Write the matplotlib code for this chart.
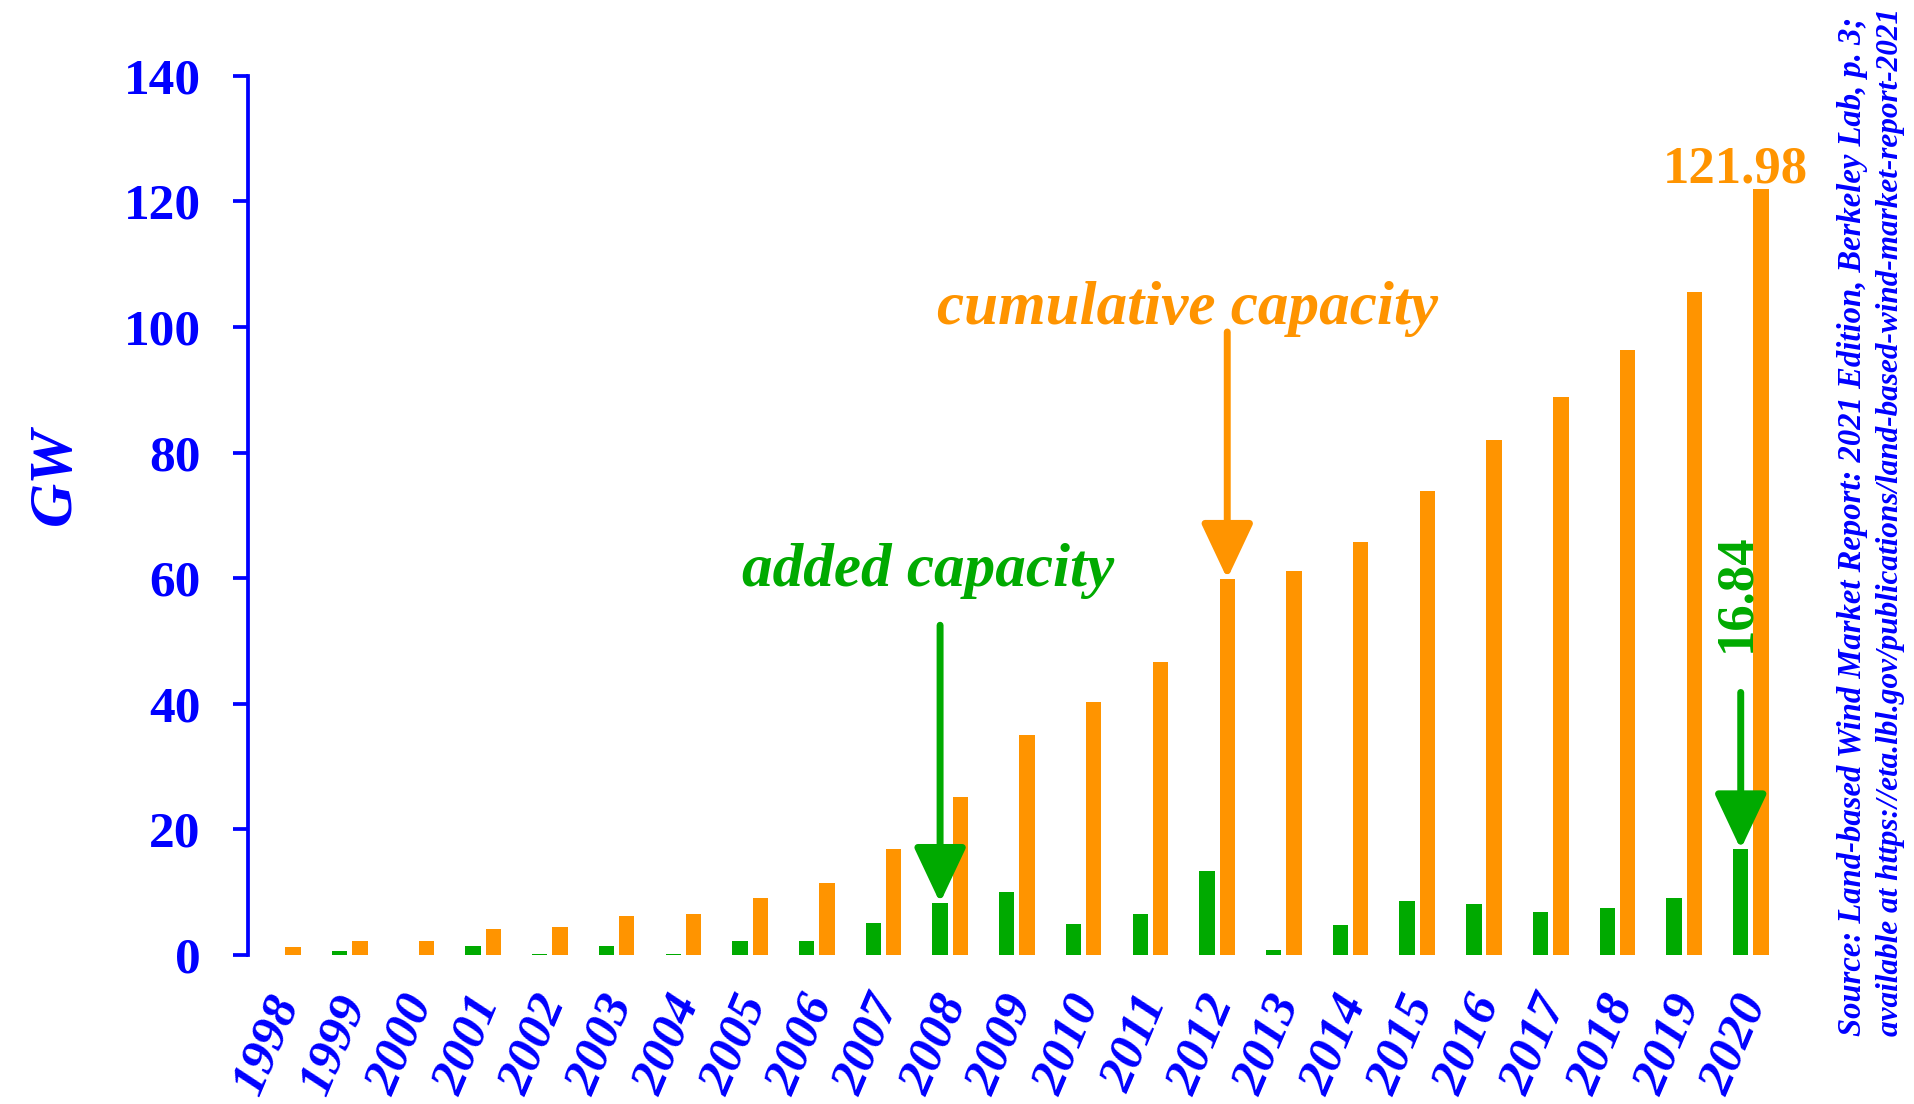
import numpy as np
import matplotlib
matplotlib.use('Agg')
from matplotlib import pyplot as plt
from matplotlib.transforms import ScaledTranslation

plt.rcParams['font.family'] = ['Liberation Serif', 'DejaVu Serif']

BLUE = '#0000FF'
GREEN = '#00AA00'
ORANGE = '#FF9400'

years = [str(y) for y in range(1998, 2021)]
# GW added each year
added = [0.0, 0.6, 0.0, 1.5, 0.1, 1.5, 0.1, 2.2, 2.3, 5.1, 8.3, 10.0, 5.0, 6.5,
         13.3, 0.8, 4.7, 8.6, 8.1, 6.9, 7.5, 9.1, 16.84]
# GW cumulative at year end
cumulative = [1.3, 2.2, 2.3, 4.1, 4.5, 6.2, 6.6, 9.0, 11.5, 16.9, 25.1, 35.0,
              40.2, 46.7, 59.9, 61.1, 65.8, 73.9, 82.0, 88.9, 96.3, 105.6, 121.98]

source_lines = ['Source: Land-based Wind Market Report: 2021 Edition, Berkeley Lab, p. 3;',
                'available at https://eta.lbl.gov/publications/land-based-wind-market-report-2021']

x = np.arange(len(years))
w = 0.23
off = 0.152

fig = plt.figure(figsize=(19.15, 11.04), dpi=100)
ax = fig.add_axes([0.1295, 0.135, 0.805, 0.7964])

ax.bar(x - off, added, width=w, color=GREEN)
ax.bar(x + off, cumulative, width=w, color=ORANGE)

ax.set_xlim(-0.525, 22.58)
ax.set_ylim(0, 140)
ax.set_yticks(range(0, 141, 20))
for s in ['top', 'right', 'bottom']:
    ax.spines[s].set_visible(False)
ax.spines['left'].set_color(BLUE)
ax.spines['left'].set_linewidth(2.7)
ax.tick_params(axis='y', colors=BLUE, width=2.7, length=11, pad=23, labelsize=37)
for lab in ax.get_yticklabels():
    lab.set_fontweight('bold')

ax.set_xticks(x)
ax.set_xticklabels(years, rotation=67, ha='right', va='top', fontsize=37,
                   fontweight='bold', fontstyle='italic', color=BLUE)
ax.tick_params(axis='x', length=0, pad=24)
shift = ScaledTranslation(26 / 100, 0, fig.dpi_scale_trans)
for lab in ax.get_xticklabels():
    lab.set_transform(lab.get_transform() + shift)

fig.text(55 / 1915, 1 - 476 / 1104, 'GW', rotation=90, ha='center', va='center',
         fontsize=44, fontweight='bold', fontstyle='italic', color=BLUE)

# labels and arrows pointing at the bars
arrow_style = '-|>,head_length=34,head_width=16'
ax.annotate('', xy=(10 - off, added[10]), xytext=(10 - off, 52.5),
            arrowprops=dict(arrowstyle=arrow_style, mutation_scale=1, lw=5,
                            color=GREEN, shrinkA=0, shrinkB=0))
ax.annotate('', xy=(14 + off, cumulative[14]), xytext=(14 + off, 99.2),
            arrowprops=dict(arrowstyle=arrow_style, mutation_scale=1, lw=5,
                            color=ORANGE, shrinkA=0, shrinkB=0))
ax.annotate('', xy=(22 - off, added[22]), xytext=(22 - off, 41.8),
            arrowprops=dict(arrowstyle=arrow_style, mutation_scale=1, lw=5,
                            color=GREEN, shrinkA=0, shrinkB=0))

ax.text(9.67, 61.2, 'added capacity', ha='center', va='center', fontsize=44,
        fontweight='bold', fontstyle='italic', color=GREEN)
ax.text(13.55, 102.9, 'cumulative capacity', ha='center', va='center', fontsize=44,
        fontweight='bold', fontstyle='italic', color=ORANGE)
ax.text(21.77, cumulative[22] + 1.0, f'{cumulative[22]:.2f}', ha='center', va='baseline',
        fontsize=38, fontweight='bold', color=ORANGE)
ax.text(21.78, 48.3, f'{added[22]:.2f}', rotation=90, ha='center', va='bottom',
        fontsize=38, fontweight='bold', color=GREEN)

fig.text(1853 / 1915, 68 / 1104, source_lines[0], rotation=90, ha='center', va='bottom',
         fontsize=23.5, fontweight='bold', fontstyle='italic', color=BLUE)
fig.text(1891 / 1915, 68 / 1104, source_lines[1], rotation=90, ha='center', va='bottom',
         fontsize=22.5, fontweight='bold', fontstyle='italic', color=BLUE)

plt.savefig('out.png', dpi=100)
